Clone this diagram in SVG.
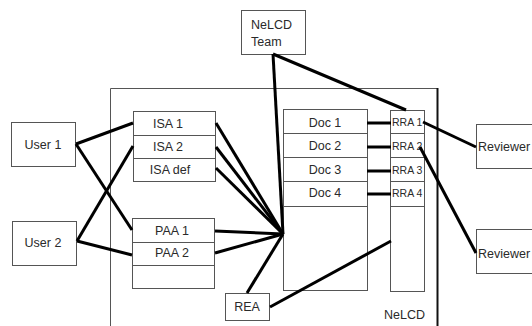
<svg xmlns="http://www.w3.org/2000/svg" width="532" height="326" viewBox="0 0 532 326">
  <style>
    .box { fill: #ffffff; stroke: #555555; stroke-width: 1; }
    .div { stroke: #555555; stroke-width: 1; fill: none; }
    .lbl { font-family: "Liberation Sans", Arial, sans-serif; font-size: 12.5px; fill: #2a2a2a; }
    .mid { text-anchor: middle; }
    .small { font-size: 10.5px; }
    .link { stroke: #000000; stroke-width: 3; fill: none; }
  </style>
  <rect x="0" y="0" width="532" height="326" fill="#ffffff"/>

  <!-- NeLCD boundary (open at the bottom) -->
  <g id="nelcd">
    <path d="M110.5,326 V88.5 H437" fill="none" stroke="#555555" stroke-width="1"/>
    <line x1="437.5" y1="88" x2="437.5" y2="326" stroke="#111111" stroke-width="2"/>
    <text class="lbl" x="384" y="319">NeLCD</text>
  </g>

  <g id="team">
    <rect class="box" x="241.5" y="10.5" width="64" height="44"/>
    <text class="lbl" x="251" y="29">NeLCD</text>
    <text class="lbl" x="251" y="46">Team</text>
  </g>

  <g id="user1">
    <rect class="box" x="11.5" y="122.5" width="64" height="44"/>
    <text class="lbl mid" x="43" y="149">User 1</text>
  </g>

  <g id="user2">
    <rect class="box" x="12.5" y="221.5" width="64" height="44"/>
    <text class="lbl mid" x="43" y="247">User 2</text>
  </g>

  <g id="isa">
    <rect class="box" x="133.5" y="111.5" width="82" height="70"/>
    <line class="div" x1="133.5" y1="135.5" x2="215.5" y2="135.5"/>
    <line class="div" x1="133.5" y1="158.5" x2="215.5" y2="158.5"/>
    <text class="lbl mid" x="168" y="128">ISA 1</text>
    <text class="lbl mid" x="168" y="151">ISA 2</text>
    <text class="lbl mid" x="170" y="174">ISA def</text>
  </g>

  <g id="paa">
    <rect class="box" x="132.5" y="218.5" width="82" height="70"/>
    <line class="div" x1="132.5" y1="242.5" x2="214.5" y2="242.5"/>
    <line class="div" x1="132.5" y1="265.5" x2="214.5" y2="265.5"/>
    <text class="lbl mid" x="172" y="235">PAA 1</text>
    <text class="lbl mid" x="172" y="257">PAA 2</text>
  </g>

  <g id="rea">
    <rect class="box" x="225.5" y="293.5" width="44" height="27"/>
    <text class="lbl mid" x="247" y="311">REA</text>
  </g>

  <g id="docs">
    <rect class="box" x="283.5" y="109.5" width="84" height="181"/>
    <line class="div" x1="283.5" y1="133.5" x2="367.5" y2="133.5"/>
    <line class="div" x1="283.5" y1="157.5" x2="367.5" y2="157.5"/>
    <line class="div" x1="283.5" y1="181.5" x2="367.5" y2="181.5"/>
    <line class="div" x1="283.5" y1="206.5" x2="367.5" y2="206.5"/>
    <text class="lbl mid" x="325" y="127">Doc 1</text>
    <text class="lbl mid" x="325" y="150">Doc 2</text>
    <text class="lbl mid" x="325" y="174">Doc 3</text>
    <text class="lbl mid" x="325" y="197">Doc 4</text>
  </g>

  <g id="rra">
    <rect class="box" x="390.5" y="110.5" width="34" height="181"/>
    <line class="div" x1="390.5" y1="133.5" x2="424.5" y2="133.5"/>
    <line class="div" x1="390.5" y1="157.5" x2="424.5" y2="157.5"/>
    <line class="div" x1="390.5" y1="181.5" x2="424.5" y2="181.5"/>
    <line class="div" x1="390.5" y1="206.5" x2="424.5" y2="206.5"/>
    <text class="lbl small" x="392" y="126">RRA 1</text>
    <text class="lbl small" x="392" y="150">RRA 2</text>
    <text class="lbl small" x="392" y="174">RRA 3</text>
    <text class="lbl small" x="392" y="197">RRA 4</text>
  </g>

  <g id="reviewer1">
    <rect class="box" x="476.5" y="124.5" width="70" height="44"/>
    <text class="lbl" x="478" y="151">Reviewer</text>
  </g>

  <g id="reviewer2">
    <rect class="box" x="476.5" y="229.5" width="70" height="44"/>
    <text class="lbl" x="478" y="258">Reviewer</text>
  </g>

  <!-- connectors, drawn over the boxes -->
  <g id="connectors">
    <line class="link" x1="76" y1="144" x2="133" y2="123"/>
    <line class="link" x1="76" y1="144" x2="132" y2="230"/>
    <line class="link" x1="77" y1="241" x2="133" y2="146"/>
    <line class="link" x1="77" y1="241" x2="132" y2="255"/>
    <line class="link" x1="216" y1="123" x2="283" y2="234"/>
    <line class="link" x1="216" y1="147" x2="283" y2="234"/>
    <line class="link" x1="216" y1="168" x2="283" y2="234"/>
    <line class="link" x1="215" y1="231" x2="283" y2="234"/>
    <line class="link" x1="215" y1="253" x2="283" y2="234"/>
    <line class="link" x1="247" y1="293" x2="283" y2="234"/>
    <line class="link" x1="273" y1="54" x2="283" y2="234"/>
    <line class="link" x1="273" y1="54" x2="406" y2="110"/>
    <line class="link" x1="367" y1="123" x2="391" y2="123"/>
    <line class="link" x1="367" y1="147" x2="391" y2="147"/>
    <line class="link" x1="367" y1="171" x2="391" y2="171"/>
    <line class="link" x1="367" y1="194" x2="391" y2="194"/>
    <line class="link" x1="423" y1="122" x2="476" y2="147"/>
    <line class="link" x1="420" y1="147" x2="476" y2="253"/>
    <line class="link" x1="270" y1="307" x2="391" y2="241"/>
  </g>
</svg>
